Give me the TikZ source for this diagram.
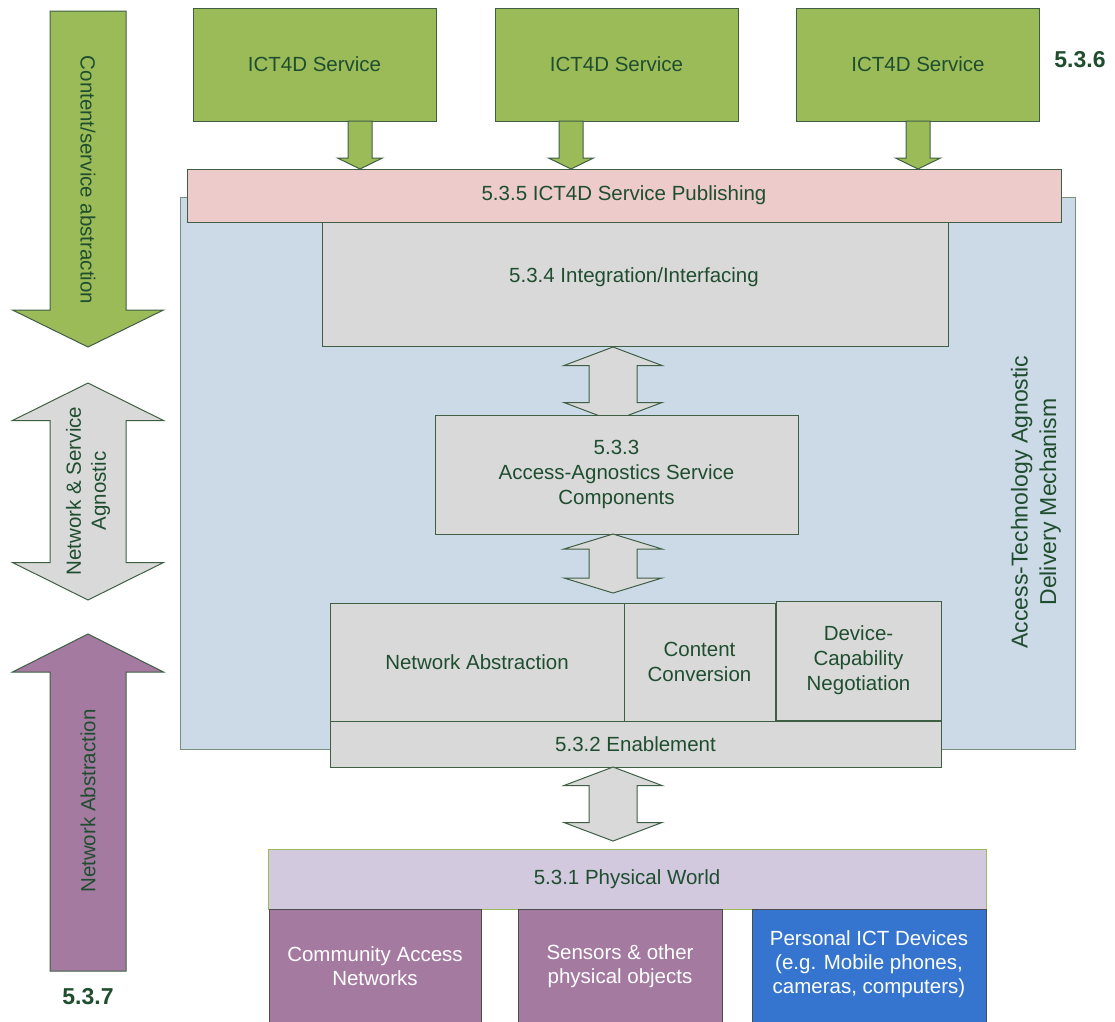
\documentclass[tikz,border=0pt]{standalone}
\usepackage{fontspec}
\setmainfont{Liberation Sans}
\usetikzlibrary{calc}
\definecolor{txt}{HTML}{1F4E2F}
\definecolor{edge}{HTML}{3F5F45}
\definecolor{svcgreen}{HTML}{9BBB59}
\definecolor{panelgray}{HTML}{D9D9D9}
\definecolor{pubpink}{HTML}{ECCBCA}
\definecolor{bgblue}{HTML}{CCD9E7}
\definecolor{lav}{HTML}{D2C9DF}
\definecolor{plum}{HTML}{A47AA1}
\definecolor{devblue}{HTML}{3575D0}
% block arrow pointing down: x, top, tip, half shaft, half head, head length
\newcommand\blockarrowdn[7]{\draw[#7] ({#1-#4},#2) -- ({#1+#4},#2) -- ({#1+#4},{#3-#6}) -- ({#1+#5},{#3-#6}) -- (#1,#3) -- ({#1-#5},{#3-#6}) -- ({#1-#4},{#3-#6}) -- cycle;}
% block arrow pointing up: x, bottom, tip, half shaft, half head, head length
\newcommand\blockarrowup[7]{\draw[#7] ({#1-#4},#2) -- ({#1+#4},#2) -- ({#1+#4},{#3+#6}) -- ({#1+#5},{#3+#6}) -- (#1,#3) -- ({#1-#5},{#3+#6}) -- ({#1-#4},{#3+#6}) -- cycle;}
% two-headed block arrow: x, top tip, bottom tip, half shaft, half head, head length
\newcommand\blockarrowboth[7]{\draw[#7] (#1,#2) -- ({#1+#5},{#2+#6}) -- ({#1+#4},{#2+#6}) -- ({#1+#4},{#3-#6}) -- ({#1+#5},{#3-#6}) -- (#1,#3) -- ({#1-#5},{#3-#6}) -- ({#1-#4},{#3-#6}) -- ({#1-#4},{#2+#6}) -- ({#1-#5},{#2+#6}) -- cycle;}
\tikzset{
  lbl/.style={text=txt, font=\fontsize{20.5}{25}\selectfont, align=center},
  box/.style={draw=edge, line width=1pt, inner sep=0pt, lbl},
  svc/.style={box, fill=svcgreen, minimum width=243pt, minimum height=113pt},
  gbox/.style={box, fill=panelgray},
  world/.style={draw=black!70, line width=0.8pt, inner sep=0pt, text=white,
    font=\fontsize{20.5}{24}\selectfont, align=center, minimum height=114pt},
  arr/.style={draw=edge, line width=1pt},
  sect/.style={text=txt, font=\fontsize{23}{27}\selectfont\bfseries},
}
\begin{document}
\begin{tikzpicture}[x=1pt,y=-1pt]
\useasboundingbox (0,0) rectangle (1115,1021);
\fill[white] (0,0) rectangle (1115,1021);

% delivery mechanism background
\node[draw=edge!70, line width=0.8pt, fill=bgblue, minimum width=895pt, minimum height=552pt, inner sep=0pt] (bg) at (627.5,473) {};
\node[text=txt, font=\fontsize{23}{28.5}\selectfont, align=center, rotate=90] (bglabel) at (1036,502) {Access-Technology Agnostic\\Delivery Mechanism};

% services
\node[svc] (s1) at (314.5,64.5) {ICT4D Service};
\node[svc] (s2) at (616.5,64.5) {ICT4D Service};
\node[svc] (s3) at (918,64.5) {ICT4D Service};
\node[sect] (n536) at (1080,60) {5.3.6};

\blockarrowdn{360}{121}{169}{12}{22.5}{11}{arr, fill=svcgreen}
\blockarrowdn{571}{121}{169}{12}{22.5}{11}{arr, fill=svcgreen}
\blockarrowdn{918}{121}{169}{12}{22.5}{11}{arr, fill=svcgreen}

% publishing layer
\node[box, fill=pubpink, minimum width=874pt, minimum height=53pt] (pub) at (624,195.5) {5.3.5 ICT4D Service Publishing};

% integration layer
\node[gbox, minimum width=626pt, minimum height=124pt] (integ) at (635,284) {};
\node[lbl] (integlbl) at (634,277) {5.3.4 Integration/Interfacing};

\blockarrowboth{613}{347}{421}{24}{49}{18.5}{arr, fill=panelgray}

% service components
\node[gbox, minimum width=363pt, minimum height=119pt] (comp) at (616.5,474.5) {5.3.3\\Access-Agnostics Service\\Components};

\blockarrowboth{613}{534}{593}{24}{49}{15}{arr, fill=panelgray}

% enablement layer
\node[gbox, minimum width=294pt, minimum height=118pt] (netab) at (477,662) {Network Abstraction};
\node[gbox, minimum width=151pt, minimum height=118pt] (conv) at (699.5,662) {Content\\Conversion};
\node[gbox, minimum width=165pt, minimum height=119pt] (devcap) at (858.5,660.5) {Device-\\Capability\\Negotiation};
\node[gbox, minimum width=611pt, minimum height=46pt] (enab) at (635.5,744) {5.3.2 Enablement};

\blockarrowboth{613}{767}{841}{24}{49}{18.5}{arr, fill=panelgray}

% physical world
\node[draw=svcgreen, line width=1pt, fill=lav, lbl, minimum width=718pt, minimum height=60pt, inner sep=0pt] (phys) at (627,879) {5.3.1 Physical World};
\node[world, fill=plum, minimum width=212pt] (comm) at (375,966) {Community Access\\Networks};
\node[world, fill=plum, minimum width=204pt] (sens) at (620,966) {Sensors \& other\\physical objects};
\node[world, fill=devblue, minimum width=234pt] (pers) at (869,966) {};
\node[text=white, font=\fontsize{20.5}{24}\selectfont, align=center] (perslbl) at (869,964) {Personal ICT Devices\\(e.g. Mobile phones,\\cameras, computers)};

% side arrows
\blockarrowdn{88}{11}{347}{38}{75.5}{37}{arr, fill=svcgreen}
\node[lbl, rotate=-90] (csa) at (88,180) {Content/service abstraction};

\blockarrowboth{88}{383}{600}{38}{75.5}{37.5}{arr, fill=panelgray}
\node[lbl, rotate=90] (nsa) at (88,491) {Network \& Service\\Agnostic};

\blockarrowup{88}{971}{634}{38}{75.5}{38}{arr, fill=plum}
\node[lbl, rotate=90] (nab) at (88,801) {Network Abstraction};
\node[sect] (n537) at (88,997) {5.3.7};
\end{tikzpicture}
\end{document}
